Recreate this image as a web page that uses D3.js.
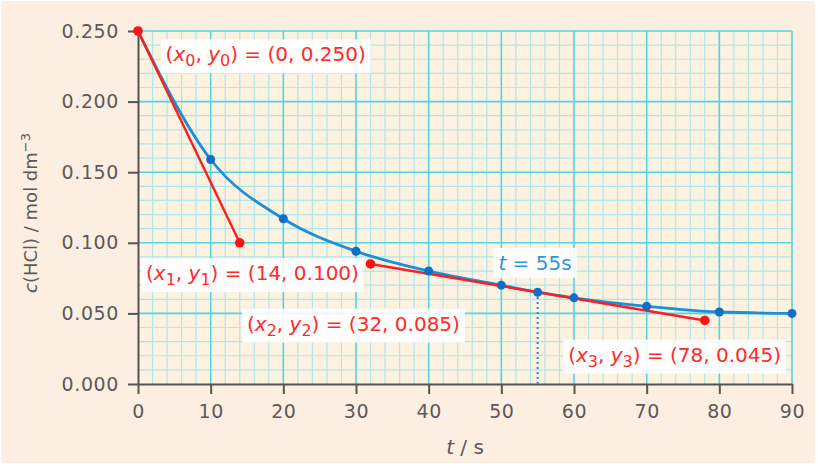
<!DOCTYPE html>
<html>
<head>
<meta charset="utf-8">
<script src="https://cdn.jsdelivr.net/npm/d3@7"></script>
<style>
  body { margin: 0; background: #ffffff; }
  svg { display: block; font-family: "DejaVu Sans", sans-serif; }
</style>
</head>
<body>
<svg id="chart" width="820" height="468"></svg>
<script>
// measured points on the curve
var times = [0, 10, 20, 30, 40, 50, 55, 60, 70, 80, 90];
var conc = [0.250, 0.159, 0.117, 0.094, 0.080, 0.070, 0.065, 0.061, 0.055, 0.051, 0.050];

// tangent lines (red)
var tangent1 = [[0, 0.250], [14, 0.100]];
var tangent2 = [[32, 0.085], [78, 0.045]];

var xTicks = [0, 10, 20, 30, 40, 50, 60, 70, 80, 90];
var yTicks = [0, 0.05, 0.10, 0.15, 0.20, 0.25];

// annotation labels: [subscript, coordinate text, anchor t, anchor c]
var pointLabels = [
  ["0", "(0, 0.250)", 3.8, 0.2285],
  ["1", "(14, 0.100)", 1.1, 0.0735],
  ["2", "(32, 0.085)", 15.0, 0.0378],
  ["3", "(78, 0.045)", 59.2, 0.0158]
];
var tMark = 55, tMarkC = 0.065;

var margin = {top: 31, right: 28, bottom: 84, left: 138},
    width = 820 - margin.left - margin.right,
    height = 468 - margin.top - margin.bottom;

var svg = d3.select("#chart");

// peach card background
svg.append("rect")
    .attr("x", 1).attr("y", 1)
    .attr("width", 814).attr("height", 462)
    .attr("rx", 4)
    .attr("fill", "#fdeee2");

var g = svg.append("g")
    .attr("transform", "translate(" + margin.left + "," + margin.top + ")");

var x = d3.scaleLinear().domain([0, 90]).range([0, width]);
var y = d3.scaleLinear().domain([0, 0.25]).range([height, 0]);

g.append("rect")
    .attr("width", width).attr("height", height)
    .attr("fill", "#fdf1e0");

// minor grid
g.append("g").selectAll("line")
    .data(d3.range(0, 91, 2).filter(function(d) { return d % 10 != 0; }))
  .enter().append("line")
    .attr("x1", function(d) { return x(d); }).attr("x2", function(d) { return x(d); })
    .attr("y1", 0).attr("y2", height)
    .attr("stroke", "#aee6ee").attr("stroke-width", 1.2);
g.append("g").selectAll("line")
    .data(d3.range(0, 26, 1).filter(function(d) { return d % 5 != 0; }))
  .enter().append("line")
    .attr("y1", function(d) { return y(d / 100); }).attr("y2", function(d) { return y(d / 100); })
    .attr("x1", 0).attr("x2", width)
    .attr("stroke", "#aee6ee").attr("stroke-width", 1.2);

// major grid
g.append("g").selectAll("line")
    .data(xTicks.slice(1))
  .enter().append("line")
    .attr("x1", function(d) { return x(d); }).attr("x2", function(d) { return x(d); })
    .attr("y1", 0).attr("y2", height)
    .attr("stroke", "#4fd6e2").attr("stroke-width", 1.6);
g.append("g").selectAll("line")
    .data(yTicks.slice(1))
  .enter().append("line")
    .attr("y1", function(d) { return y(d); }).attr("y2", function(d) { return y(d); })
    .attr("x1", 0).attr("x2", width)
    .attr("stroke", "#4fd6e2").attr("stroke-width", 1.6);

// axes
var xAxis = g.append("g")
    .attr("transform", "translate(0," + height + ")")
    .call(d3.axisBottom(x).tickValues(xTicks).tickSize(10).tickPadding(11).tickSizeOuter(0));
var yAxis = g.append("g")
    .call(d3.axisLeft(y).tickValues(yTicks).tickFormat(d3.format(".3f")).tickSize(10).tickPadding(9).tickSizeOuter(0));

[xAxis, yAxis].forEach(function(a) {
  a.select(".domain").attr("stroke", "#555").attr("stroke-width", 2);
  a.selectAll(".tick line").attr("stroke", "#555").attr("stroke-width", 2);
  a.selectAll(".tick text")
      .attr("fill", "#5a5a5a")
      .style("font-size", "19px")
      .style("letter-spacing", "0.6px")
      .style("font-family", "DejaVu Sans, sans-serif");
});

// axis titles
var xt = svg.append("text")
    .attr("x", 465).attr("y", 454)
    .attr("text-anchor", "middle")
    .attr("fill", "#5a5a5a")
    .style("font-size", "20px");
xt.append("tspan").style("font-style", "italic").text("t");
xt.append("tspan").text(" / s");

var yt = svg.append("text")
    .attr("transform", "translate(37,213) rotate(-90)")
    .attr("text-anchor", "middle")
    .attr("fill", "#5a5a5a")
    .style("font-size", "18px");
yt.append("tspan").style("font-style", "italic").text("c");
yt.append("tspan").text("(HCl) / mol dm");
yt.append("tspan").attr("dy", -7).style("font-size", "13px").text("−3");

// dotted line at t = 55
g.append("line")
    .attr("x1", x(tMark)).attr("x2", x(tMark))
    .attr("y1", y(0)).attr("y2", y(tMarkC))
    .attr("stroke", "#1a8bd6").attr("stroke-width", 2)
    .attr("stroke-dasharray", "2,3");

// blue curve
var line = d3.line()
    .x(function(d) { return x(d[0]); })
    .y(function(d) { return y(d[1]); })
    .curve(d3.curveMonotoneX);
var pts = times.map(function(t, i) { return [t, conc[i]]; });

g.append("path")
    .datum(pts)
    .attr("fill", "none")
    .attr("stroke", "#1c8fd8")
    .attr("stroke-width", 2.8)
    .attr("d", line);

// tangents
var straight = d3.line()
    .x(function(d) { return x(d[0]); })
    .y(function(d) { return y(d[1]); });
[tangent1, tangent2].forEach(function(tg) {
  g.append("path")
      .datum(tg)
      .attr("fill", "none")
      .attr("stroke", "#ff1d1d")
      .attr("stroke-width", 2.4)
      .attr("d", straight);
});

g.selectAll(".bdot")
    .data(pts.slice(1))
  .enter().append("circle")
    .attr("class", "bdot")
    .attr("cx", function(d) { return x(d[0]); })
    .attr("cy", function(d) { return y(d[1]); })
    .attr("r", 4.5)
    .attr("fill", "#0f6fc6");

g.selectAll(".rdot")
    .data(tangent1.concat(tangent2))
  .enter().append("circle")
    .attr("class", "rdot")
    .attr("cx", function(d) { return x(d[0]); })
    .attr("cy", function(d) { return y(d[1]); })
    .attr("r", 4.8)
    .attr("fill", "#ff1212");

// labels with white boxes
function boxed(tx, ty, build, color) {
  var lg = g.append("g");
  var bg = lg.append("rect").attr("fill", "#ffffff").attr("fill-opacity", 0.88);
  var t = lg.append("text")
      .attr("x", tx).attr("y", ty)
      .attr("fill", color)
      .style("font-size", "20px");
  build(t);
  var b = t.node().getBBox();
  bg.attr("x", b.x - 5).attr("y", b.y - 3)
    .attr("width", b.width + 10).attr("height", b.height + 6);
}

pointLabels.forEach(function(p) {
  boxed(x(p[2]), y(p[3]), function(t) {
    t.append("tspan").text("(");
    t.append("tspan").style("font-style", "italic").text("x");
    t.append("tspan").attr("dy", 5).style("font-size", "16px").text(p[0]);
    t.append("tspan").attr("dy", -5).text(", ");
    t.append("tspan").style("font-style", "italic").text("y");
    t.append("tspan").attr("dy", 5).style("font-size", "16px").text(p[0]);
    t.append("tspan").attr("dy", -5).text(") = " + p[1]);
  }, "#ff2a2a");
});

boxed(x(49.6), y(0.0808), function(t) {
  t.append("tspan").style("font-style", "italic").text("t");
  t.append("tspan").text(" = 55s");
}, "#2e95e0");
</script>
</body>
</html>
